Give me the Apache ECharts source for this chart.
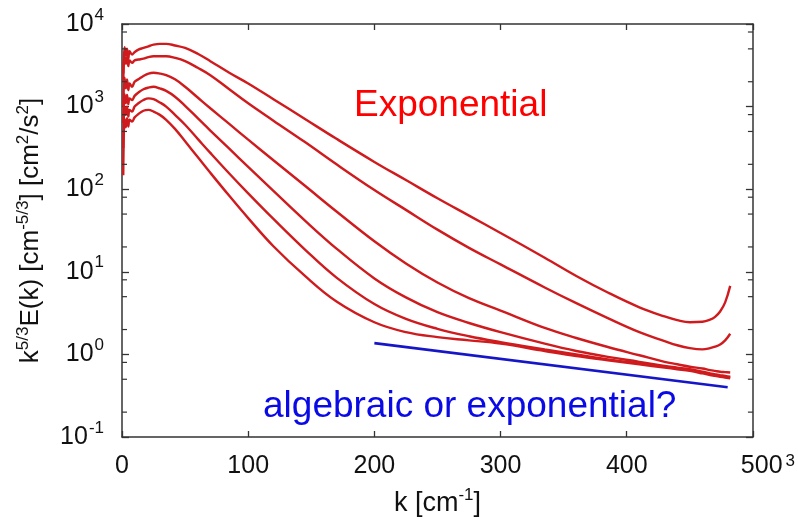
<!DOCTYPE html>
<html><head><meta charset="utf-8">
<script src="https://cdn.jsdelivr.net/npm/echarts@6/dist/echarts.min.js"></script>
<style>html,body{margin:0;padding:0;background:#fff}#c{width:798px;height:522px}</style>
</head><body><div id="c"></div>
<script>
// wavenumber samples k [cm^-1]
const kValues = [1,2,3,4,5,6,8,10,13,17,21,25,30,35,42,50,60,70,85,100,120,145,170,200,225,250,275,300,335,360,385,410,430,440,450,460,466,470,474,478,482];
// k^(5/3) E(k) for six times (top to bottom)
const curve1 = [2512,5248,4169,5012,3802,4677,4266,4571,4898,5129,5370,5623,5754,5754,5495,5129,4365,3548,2570,1905,1230,708,407,214,129,77.6,47.9,29.5,14.8,8.91,5.62,3.72,2.88,2.60,2.45,2.48,2.63,2.85,3.31,4.27,6.76];
const curve2 = [1995,4169,3311,3981,3090,3631,3388,3631,3715,3802,3981,4074,4074,4074,3890,3548,2951,2399,1622,1096,676,372,200,97.7,56.2,32.4,19.5,12.3,6.46,4.17,2.75,1.86,1.45,1.29,1.19,1.15,1.19,1.24,1.32,1.48,1.78];
const curve3 = [1000,2239,1660,2138,1585,1905,1738,1995,2138,2344,2512,2570,2512,2399,2138,1738,1288,955,617,398,224,110,53.7,23.4,12.6,7.41,4.79,3.39,2.09,1.58,1.23,0.977,0.813,0.759,0.708,0.676,0.646,0.631,0.617,0.610,0.603];
const curve4 = [631,1413,1096,1380,1072,1259,1202,1349,1479,1622,1698,1738,1660,1549,1318,1023,724,513,309,186,95.5,41.7,19.1,8.32,4.90,3.24,2.40,1.86,1.35,1.10,0.933,0.813,0.724,0.692,0.661,0.617,0.589,0.575,0.562,0.550,0.537];
const curve5 = [316,1000,794,1000,759,912,871,1000,1096,1202,1259,1230,1122,1000,794,603,407,275,155,89.1,43.7,18.6,8.51,4.07,2.69,2.04,1.66,1.41,1.15,1.00,0.871,0.776,0.708,0.676,0.646,0.603,0.575,0.562,0.550,0.537,0.525];
const curve6 = [148,708,562,724,575,692,661,741,813,891,912,871,794,692,537,380,245,158,83.2,44.7,20.4,8.91,4.37,2.45,1.86,1.62,1.48,1.35,1.10,0.955,0.851,0.759,0.692,0.661,0.631,0.589,0.562,0.550,0.537,0.525,0.513];
// reference (blue) line
const guideK = [200, 480];
const guideE = [1.37, 0.40];
// axis ticks
const xTickValues = [0, 100, 200, 300, 400, 500];
const yMajorTicks = [0.1, 1, 10, 100, 1000, 10000];
const yMinorTicks = [0.2,0.5,0.8, 2,5,8, 20,50,80, 200,500,800, 2000,5000,8000];
const annotationTop = 'Exponential';
const annotationBottom = 'algebraic or exponential?';

const FONT = '"Liberation Sans", Arial, sans-serif';
const AX = '#333';
const RED = '#cf1b1d';

const chart = echarts.init(document.getElementById('c'), null, {renderer: 'canvas'});

const curves = [curve1, curve2, curve3, curve4, curve5, curve6];
const lineSeries = curves.map((c, idx) => ({
  type: 'line', name: 'curve' + (idx + 1),
  data: kValues.map((k, i) => [k, c[i]]),
  symbol: 'none', smooth: 0.4,
  lineStyle: {color: RED, width: 2.4},
  z: 3
}));

const supBase = {fontFamily: FONT, color: '#111', verticalAlign: 'bottom'};

chart.setOption({
  animation: false,
  backgroundColor: '#fff',
  grid: {left: 122, right: 41, top: 24, bottom: 85},
  xAxis: [{
    type: 'value', min: 0, max: 500, interval: 100, position: 'bottom',
    axisLine: {show: true, lineStyle: {color: AX, width: 1.5}},
    axisTick: {show: true, inside: true, length: 6, lineStyle: {color: AX, width: 1.3}},
    splitLine: {show: false},
    axisLabel: {
      margin: 16,
      formatter: v => v === 500 ? '{p|500}{s|3}' : '{b|' + v + '}',
      rich: {
        b: Object.assign({fontSize: 25, lineHeight: 26}, supBase),
        p: Object.assign({fontSize: 25, lineHeight: 26, padding: [0, 0, 0, 30]}, supBase),
        s: Object.assign({fontSize: 17, lineHeight: 17, padding: [0, 0, 9, 3]}, supBase)
      }
    },
    name: '{b|k [cm}{s|-1}{b|]}', nameLocation: 'middle', nameGap: 52,
    nameTextStyle: {
      rich: {
        b: Object.assign({fontSize: 27, lineHeight: 28}, supBase),
        s: Object.assign({fontSize: 17, lineHeight: 17, padding: [0, 0, 13, 0]}, supBase)
      }
    }
  }, {
    type: 'value', min: 0, max: 500, interval: 100, position: 'top',
    axisLine: {show: true, onZero: false, lineStyle: {color: AX, width: 1.5}},
    axisTick: {show: true, inside: true, length: 6, lineStyle: {color: AX, width: 1.3}},
    axisLabel: {show: false}, splitLine: {show: false}
  }],
  yAxis: [{
    type: 'log', logBase: 10, min: 0.1, max: 10000, splitNumber: 5, position: 'left',
    axisLine: {show: true, lineStyle: {color: AX, width: 1.5}},
    axisTick: {show: true, inside: true, length: 7, lineStyle: {color: AX, width: 1.3}},
    splitLine: {show: false},
    axisLabel: {
      margin: 18,
      formatter: v => '{b|10}{s|' + Math.round(Math.log10(v)) + '}',
      rich: {
        b: Object.assign({fontSize: 25, lineHeight: 25}, supBase),
        s: Object.assign({fontSize: 17, lineHeight: 17, padding: [0, 0, 13, 1]}, supBase)
      }
    },
    name: '{b|k}{s|5/3}{b|E(k) [cm}{s|-5/3}{b|] [cm}{s|2}{b|/s}{s|2}{b|]}',
    nameLocation: 'middle', nameGap: 78,
    nameTextStyle: {
      rich: {
        b: Object.assign({fontSize: 26, lineHeight: 27}, supBase),
        s: Object.assign({fontSize: 17, lineHeight: 17, padding: [0, 0, 12, 0]}, supBase)
      }
    }
  }, {
    type: 'log', logBase: 10, min: 0.1, max: 10000, splitNumber: 5, position: 'right',
    axisLine: {show: true, onZero: false, lineStyle: {color: AX, width: 1.5}},
    axisTick: {show: true, inside: true, length: 7, lineStyle: {color: AX, width: 1.3}},
    axisLabel: {show: false}, splitLine: {show: false}
  }],
  series: lineSeries.concat([{
    type: 'line', name: 'guide',
    data: guideK.map((k, i) => [k, guideE[i]]),
    symbol: 'none', lineStyle: {color: '#1616c8', width: 2.6}, z: 4
  }, {
    type: 'custom', name: 'minorTicks', silent: true, clip: false, z: 5,
    data: yMinorTicks.map(v => [0, v]),
    encode: {x: 0, y: 1},
    renderItem: (params, api) => {
      const v = api.value(1);
      const pL = api.coord([0, v]);
      const pR = api.coord([500, v]);
      return {type: 'group', children: [
        {type: 'line', shape: {x1: pL[0], y1: pL[1], x2: pL[0] + 5, y2: pL[1]}, style: {stroke: AX, lineWidth: 1.2}},
        {type: 'line', shape: {x1: pR[0], y1: pR[1], x2: pR[0] - 5, y2: pR[1]}, style: {stroke: AX, lineWidth: 1.2}}
      ]};
    }
  }]),
  graphic: [{
    type: 'text', left: 354, top: 87, z: 10,
    style: {text: annotationTop, fill: '#ff0000', font: '37px ' + FONT}
  }, {
    type: 'text', left: 263, top: 388, z: 10,
    style: {text: annotationBottom, fill: '#0a0ae6', font: '37px ' + FONT}
  }]
});
</script>
</body></html>
